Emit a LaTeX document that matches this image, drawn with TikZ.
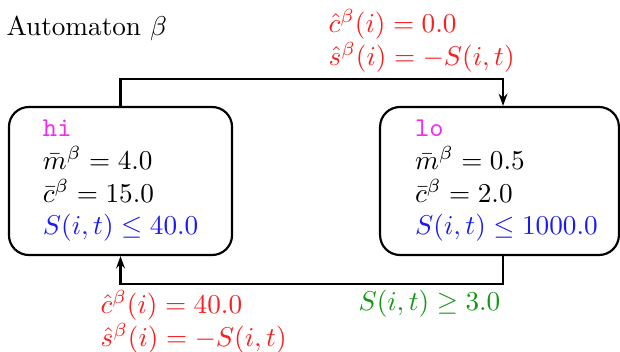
\documentclass[tikz,border=0pt]{standalone}
\usetikzlibrary{arrows.meta}
\definecolor{lblred}{RGB}{250,30,30}
\definecolor{grdblue}{RGB}{25,25,245}
\definecolor{stmag}{RGB}{245,40,245}
\definecolor{grdgreen}{RGB}{20,150,20}
\begin{document}
\begin{tikzpicture}[x=0.3676pt,y=-0.3676pt,
  state/.style={draw, line width=0.8pt, rounded corners=7.3pt, align=left,
    minimum height=54.4pt, inner sep=0pt},
  conn/.style={line width=0.8pt, -{Stealth[length=4.5pt,width=3.2pt]}},
  lbl/.style={align=left, inner sep=0pt, text=lblred},
  plain/.style={inner sep=0pt}]
\useasboundingbox (0,0) rectangle (620,352);
\node[plain, anchor=base west] (title) at (6,36) {Automaton $\beta$};
\node[state, minimum width=82pt, text width=57pt] (hi) at (120.5,181)
  {\textcolor{stmag}{\texttt{hi}}\\
   $\bar m^\beta = 4.0$\\
   $\bar c^\beta = 15.0$\\
   \textcolor{grdblue}{\mbox{$S(i,t)\leq 40.0$}}};
\node[state, minimum width=87.8pt, text width=62pt] (lo) at (499.5,181)
  {\textcolor{stmag}{\texttt{lo}}\\
   $\bar m^\beta = 0.5$\\
   $\bar c^\beta = 2.0$\\
   \textcolor{grdblue}{\mbox{$S(i,t)\leq 1000.0$}}};
\draw[conn] (hi.north) -- ++(0,-27) -| ([xshift=1.3pt]lo.north);
\draw[conn] ([xshift=1.3pt]lo.south) -- ++(0,28) -| (hi.south);
\node[lbl, anchor=north west] (toplbl) at (328,9)
  {$\hat c^\beta(i) = 0.0$\\ $\hat s^\beta(i) = -S(i,t)$};
\node[lbl, anchor=north west] (botlbl) at (100,290)
  {$\hat c^\beta(i) = 40.0$\\ $\hat s^\beta(i) = -S(i,t)$};
\node[plain, anchor=base west, text=grdgreen] (guard) at (358,310) {$S(i,t)\geq 3.0$};
\end{tikzpicture}
\end{document}
